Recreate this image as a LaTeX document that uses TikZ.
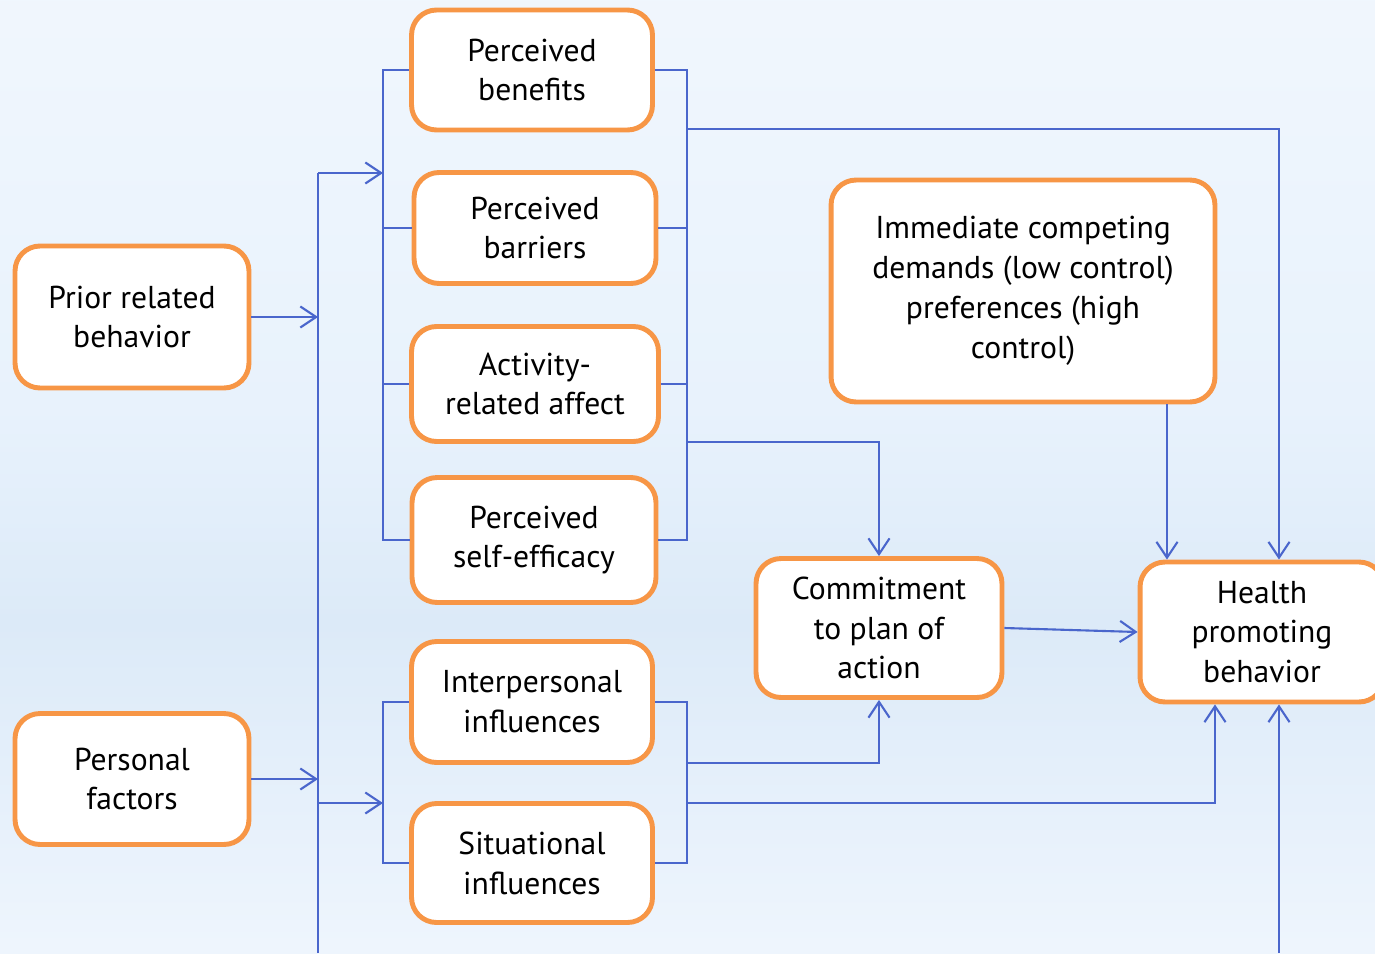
\documentclass[tikz,border=0pt]{standalone}
\usepackage{fontspec}
\setmainfont{PT Sans}
\usetikzlibrary{arrows.meta}

\definecolor{boxorange}{HTML}{F79646}
\definecolor{linkblue}{HTML}{4A66CC}
\definecolor{bgA}{HTML}{F3F8FE}
\definecolor{bgB}{HTML}{F3F8FE}
\definecolor{bgC}{HTML}{E2EEFA}
\definecolor{bgD}{HTML}{CFE4F8}
\definecolor{bgE}{HTML}{DEECF9}
\definecolor{bgF}{HTML}{EEF5FD}
\definecolor{bgG}{HTML}{DCEAF8}
\definecolor{bgH}{HTML}{E8F2FC}
\definecolor{bgI}{HTML}{F3F8FE}
\definecolor{bgJ}{HTML}{F6FAFE}
\definecolor{bgK}{HTML}{F0F6FD}

% light sky background with two soft bands
\pgfdeclareverticalshading{skyband}{27.5cm}{%
  color(0cm)=(bgA); color(5.06cm)=(bgB); color(6.66cm)=(bgC);
  color(7.36cm)=(bgD); color(7.76cm)=(bgE); color(8.66cm)=(bgF);
  color(9.26cm)=(bgG); color(9.66cm)=(bgH); color(10.66cm)=(bgI);
  color(15.06cm)=(bgJ); color(19.06cm)=(bgK)}

\tikzset{
  box/.style={draw=boxorange, line width=2.8pt, fill=white,
    rounded corners=0.5cm, align=center, inner sep=0pt,
    font=\fontsize{18}{22.7}\selectfont},
  link/.style={draw=linkblue, line width=1.2pt},
  flow/.style={link, -{Straight Barb[length=9pt,width=12pt,line width=1.2pt]}},
}

\begin{document}
\begin{tikzpicture}[x=0.02cm, y=-0.02cm]
  \clip (0,0) rectangle (1375,953);
  \useasboundingbox (0,0) rectangle (1375,953);
  \shade[shading=skyband] (0,0) rectangle (1375,953);

  % left inputs
  \node[box, minimum width=4.68cm, minimum height=2.84cm] (prior) at (132,317) {Prior related\\behavior};
  \node[box, minimum width=4.68cm, minimum height=2.62cm] (personal) at (132,779) {Personal\\factors};

  % behavior-specific cognitions
  \node[box, minimum width=4.82cm, minimum height=2.40cm] (benefits) at (532,70) {Perceived\\benefits};
  \node[box, minimum width=4.84cm, minimum height=2.22cm] (barriers) at (535,228) {Perceived\\barriers};
  \node[box, minimum width=4.94cm, minimum height=2.30cm] (affect) at (535,384) {Activity-\\related affect};
  \node[box, minimum width=4.88cm, minimum height=2.50cm] (efficacy) at (534,540) {Perceived\\self-efficacy};
  \node[box, minimum width=4.82cm, minimum height=2.42cm] (interp) at (532,702) {Interpersonal\\influences};
  \node[box, minimum width=4.82cm, minimum height=2.38cm] (situ) at (532,863) {Situational\\influences};

  % outcome side
  \node[box, minimum width=7.68cm, minimum height=4.44cm] (immediate) at (1023,291) {Immediate competing\\demands (low control)\\preferences (high\\control)};
  \node[box, minimum width=4.92cm, minimum height=2.78cm] (commit) at (879,628) {Commitment\\to plan of\\action};
  \node[box, minimum width=4.88cm, minimum height=2.80cm] (health) at (1262,632) {Health\\promoting\\behavior};

  % spine and bracket positions
  \coordinate (spinetop) at (318,173);
  \coordinate (spinebot) at (318,953);
  \coordinate (lowin) at (318,803);
  \coordinate (lb) at (383,0);
  \coordinate (rb) at (687,0);
  \coordinate (topbus) at (687,129);
  \coordinate (midbus) at (687,442);
  \coordinate (lowbus) at (687,763);
  \coordinate (basebus) at (687,803);
  \coordinate (hl) at (1167,0);
  \coordinate (hm) at (1215,0);
  \coordinate (hr) at (1279,953);

  \draw[flow] (prior.east) -- (prior.east -| spinetop);
  \draw[flow] (personal.east) -- (personal.east -| spinetop);
  \draw[link] (spinebot) -- (spinetop);
  \draw[flow] (spinetop) -- (spinetop -| lb);
  \draw[flow] (lowin) -- (lowin -| lb);

  % upper brackets
  \draw[link] (benefits.west) -- (benefits.west -| lb) |- (efficacy.west);
  \draw[link] (barriers.west) -- (barriers.west -| lb);
  \draw[link] (affect.west) -- (affect.west -| lb);
  \draw[link] (benefits.east) -- (benefits.east -| rb) |- (efficacy.east);
  \draw[link] (barriers.east) -- (barriers.east -| rb);
  \draw[link] (affect.east) -- (affect.east -| rb);

  % lower brackets
  \draw[link] (interp.west) -- (interp.west -| lb) |- (situ.west);
  \draw[link] (interp.east) -- (interp.east -| rb) |- (situ.east);

  % into commitment and behavior
  \draw[flow] (topbus) -| (health.north -| hr);
  \draw[flow] (midbus) -| (commit.north);
  \draw[flow] (lowbus) -| (commit.south);
  \draw[flow] (basebus) -| (health.south -| hm);
  \draw[flow] (immediate.south -| hl) -- (health.north -| hl);
  \draw[flow] (commit.east) -- (health.west);
  \draw[flow] (hr) -- (health.south -| hr);
\end{tikzpicture}
\end{document}
